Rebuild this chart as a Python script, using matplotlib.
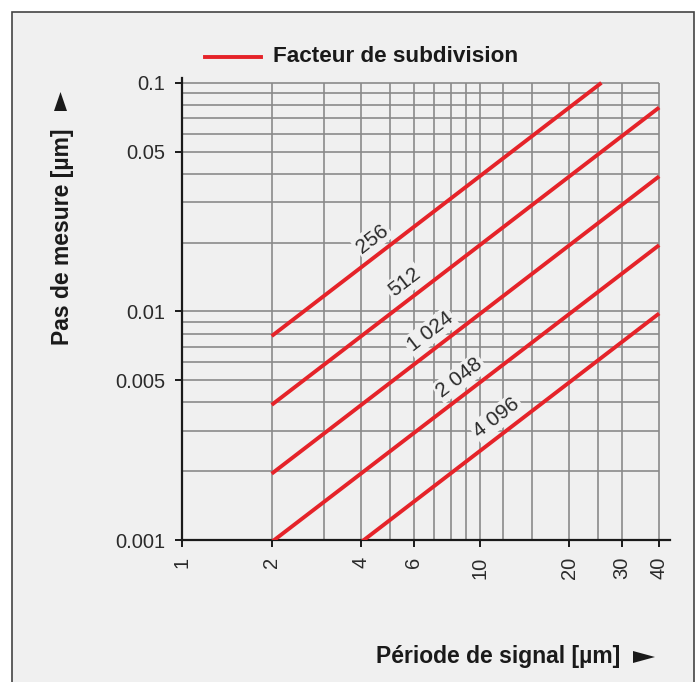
import numpy as np
import matplotlib
matplotlib.use("Agg")
import matplotlib.pyplot as plt
from matplotlib.patches import Rectangle, Polygon
from matplotlib.lines import Line2D

# ---- data ----
factors = [256, 512, 1024, 2048, 4096]
factor_labels = ["256", "512", "1 024", "2 048", "4 096"]
x_start = [2, 2, 2, 2, 4]
x_end = [25.6, 40, 40, 40, 40]
y_start = [0.0078, 0.0039, 0.00195, 0.00098, 0.00098]
y_end = [0.1, 0.078, 0.039, 0.0195, 0.0098]
label_x = [4.69, 6.04, 7.35, 9.23, 12.3]

x_ticks = [1, 2, 4, 6, 10, 20, 30, 40]
x_ticklabels = ["1", "2", "4", "6", "10", "20", "30", "40"]
y_ticks = [0.1, 0.05, 0.01, 0.005, 0.001]
y_ticklabels = ["0.1", "0.05", "0.01", "0.005", "0.001"]
x_grid = [2, 3, 4, 5, 6, 7, 8, 9, 10, 12, 15, 20, 25, 30, 40]
y_grid = [0.001, 0.002, 0.003, 0.004, 0.005, 0.006, 0.007, 0.008, 0.009,
          0.01, 0.02, 0.03, 0.04, 0.05, 0.06, 0.07, 0.08, 0.09, 0.1]

legend_text = "Facteur de subdivision"
xlabel = "Période de signal [µm]"
ylabel = "Pas de mesure [µm]"

RED = "#e52329"
BG = "#f0f0f0"
GRID = "#8a8a8a"
TXT = "#2b2b2b"
FONT = "Liberation Sans"

W, H = 698, 682
fig = plt.figure(figsize=(W / 100, H / 100), dpi=100, facecolor="white")


def fpx(x, y):
    """pixel position (from top-left) to figure fraction"""
    return (x / W, (H - y) / H)


# frame panel
fig.patches.append(Rectangle((12 / W, -0.02), (694 - 12) / W, 1.02 - 12 / H,
                             transform=fig.transFigure, facecolor=BG,
                             edgecolor="#444444", linewidth=1.2, zorder=-10))

# axes: x from 1 (px 182) to 43.5 (px 670); y 0.001 (px 540) to 0.105 (px 78)
ax = fig.add_axes([182 / W, (H - 540) / H, (670 - 182) / W, (540 - 78) / H])
ax.set_zorder(1)
ax.set_facecolor("none")
ax.set_xscale("log")
ax.set_yscale("log")
ax.set_xlim(1, 43.5)
ax.set_ylim(0.001, 0.105)

for s in ["top", "right"]:
    ax.spines[s].set_visible(False)
for s in ["left", "bottom"]:
    ax.spines[s].set_color("#1a1a1a")
    ax.spines[s].set_linewidth(1.6)

# grid
ax.hlines(y_grid, 1, 40, color=GRID, lw=1.2, zorder=1)
ax.vlines(x_grid, 0.001, 0.1, color=GRID, lw=1.2, zorder=1)

ax.xaxis.set_minor_locator(matplotlib.ticker.NullLocator())
ax.yaxis.set_minor_locator(matplotlib.ticker.NullLocator())
ax.set_xticks(x_ticks)
ax.set_xticklabels(x_ticklabels, rotation=90, fontfamily=FONT, fontsize=14.5, color=TXT)
ax.set_yticks(y_ticks)
ax.set_yticklabels(y_ticklabels, fontfamily=FONT, fontsize=14.5, color=TXT)
ax.tick_params(axis="both", length=5, width=1.4, color="#1a1a1a", pad=7)

# lines
for xs, xe, ys, ye in zip(x_start, x_end, y_start, y_end):
    ax.plot([xs, xe], [ys, ye], color=RED, lw=2.8, solid_capstyle="butt", zorder=3)

# labels on lines
for lab, lx, xs, xe, ys, ye in zip(factor_labels, label_x, x_start, x_end, y_start, y_end):
    ly = ys * (lx / xs) ** (np.log(ye / ys) / np.log(xe / xs))
    p1 = ax.transData.transform((xs, ys))
    p2 = ax.transData.transform((xe, ye))
    ang = np.degrees(np.arctan2(p2[1] - p1[1], p2[0] - p1[0]))
    d = 16
    off = (-d * np.sin(np.radians(ang)), d * np.cos(np.radians(ang)))
    ax.annotate(lab, (lx, ly), xytext=off, textcoords="offset pixels",
                rotation=ang, rotation_mode="anchor", ha="center", va="center",
                fontfamily=FONT, fontsize=15, color=TXT, zorder=4,
                bbox=dict(facecolor=BG, edgecolor="none", pad=1.5))

# legend
fig.lines.append(Line2D([205 / W, 261 / W], [(H - 57) / H] * 2, transform=fig.transFigure,
                        color=RED, lw=2.8))
fig.text(273 / W, (H - 57) / H, legend_text, fontfamily=FONT, fontweight="bold",
         fontsize=16.2, color="#1a1a1a", ha="left", va="center")

# axis labels
fig.text(620 / W, (H - 657) / H, xlabel, fontfamily=FONT, fontweight="bold",
         fontsize=16.5, color="#1a1a1a", ha="right", va="center")
fig.patches.append(Polygon([fpx(633, 651), fpx(655, 657), fpx(633, 663)], closed=True,
                           transform=fig.transFigure, facecolor="#1a1a1a",
                           edgecolor="none"))
fig.text(62 / W, (H - 345) / H, ylabel, fontfamily=FONT, fontweight="bold",
         fontsize=16.5, color="#1a1a1a", ha="center", va="bottom", rotation=90)
fig.patches.append(Polygon([fpx(54, 111), fpx(60.5, 92), fpx(67, 111)], closed=True,
                           transform=fig.transFigure, facecolor="#1a1a1a",
                           edgecolor="none"))

fig.savefig("out.png", dpi=100, facecolor="white")
